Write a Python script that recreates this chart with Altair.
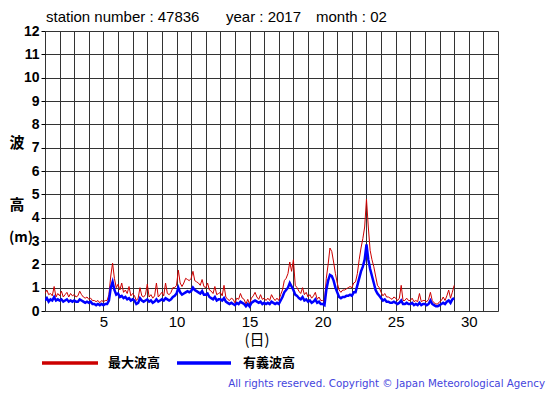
import altair as alt
import pandas as pd

# 3-hourly values from Feb 1 00:00 to Mar 1 00:00 (x = day of month)
sig_wave = [
    0.45,0.55,0.4,0.5,0.45,0.6,0.45,0.5,
    0.45,0.5,0.4,0.45,0.5,0.4,0.45,0.4,
    0.45,0.4,0.4,0.5,0.45,0.4,0.35,0.4,
    0.35,0.4,0.3,0.3,0.25,0.3,0.25,0.3,
    0.25,0.3,0.3,0.45,1.0,1.25,0.9,0.7,
    0.75,0.6,0.65,0.55,0.6,0.5,0.55,0.45,
    0.5,0.45,0.3,0.35,0.55,0.45,0.4,0.45,
    0.5,0.4,0.45,0.35,0.4,0.5,0.4,0.45,
    0.5,0.45,0.55,0.5,0.45,0.5,0.6,0.65,
    0.75,1.0,0.8,0.7,0.75,0.8,0.85,0.8,
    0.85,1.0,0.9,0.85,0.8,0.75,0.85,0.7,
    0.7,0.75,0.6,0.55,0.5,0.6,0.45,0.5,
    0.5,0.45,0.55,0.4,0.35,0.3,0.35,0.3,
    0.25,0.35,0.3,0.4,0.35,0.3,0.2,0.3,
    0.2,0.35,0.4,0.45,0.4,0.35,0.4,0.3,
    0.35,0.3,0.35,0.3,0.4,0.35,0.3,0.35,
    0.3,0.45,0.6,0.8,0.9,1.0,1.2,1.05,
    0.9,0.7,0.65,0.55,0.5,0.6,0.45,0.5,
    0.4,0.45,0.35,0.4,0.5,0.35,0.4,0.3,
    0.3,0.25,0.9,1.3,1.55,1.5,1.3,1.0,
    0.8,0.6,0.55,0.6,0.6,0.65,0.65,0.7,
    0.65,0.8,0.8,1.1,1.4,1.7,1.9,2.2,
    2.85,2.2,1.8,1.5,1.2,0.9,0.75,0.65,
    0.55,0.45,0.5,0.4,0.4,0.35,0.35,0.4,
    0.35,0.3,0.35,0.45,0.3,0.3,0.35,0.3,
    0.3,0.35,0.25,0.3,0.25,0.35,0.25,0.3,
    0.3,0.25,0.3,0.45,0.3,0.25,0.2,0.2,
    0.25,0.3,0.35,0.3,0.4,0.45,0.35,0.5,
    0.55,
]
max_wave = [
    0.75,0.9,0.7,0.75,0.65,1.05,0.6,0.75,
    0.65,0.85,0.6,0.7,0.8,0.6,0.75,0.65,
    0.7,0.6,0.65,0.85,0.7,0.6,0.55,0.6,
    0.5,0.55,0.45,0.45,0.4,0.45,0.35,0.45,
    0.4,0.45,0.45,0.7,1.5,2.05,1.4,1.0,
    1.15,0.9,1.2,0.8,0.9,0.75,1.05,0.65,
    0.75,0.65,0.45,0.55,1.0,0.65,0.6,0.7,
    1.15,0.6,0.7,0.55,0.65,1.2,0.6,0.7,
    0.8,0.65,1.2,0.75,0.7,0.8,1.0,1.0,
    1.1,1.75,1.2,1.05,1.2,1.4,1.35,1.3,
    1.4,1.7,1.3,1.25,1.2,1.1,1.35,1.05,
    1.0,1.2,0.9,0.85,0.75,1.05,0.7,0.75,
    0.8,0.65,1.1,0.6,0.5,0.45,0.55,0.5,
    0.35,0.55,0.5,0.75,0.55,0.5,0.3,0.5,
    0.3,0.55,0.65,0.8,0.6,0.5,0.7,0.5,
    0.55,0.45,0.55,0.45,0.7,0.55,0.45,0.55,
    0.45,0.7,0.9,1.3,1.4,1.6,2.1,1.7,
    2.2,1.1,1.0,0.85,0.75,1.0,0.7,0.8,
    0.6,0.7,0.55,0.65,0.8,0.5,0.6,0.45,
    0.45,0.4,1.4,2.0,2.7,2.55,2.1,1.6,
    1.2,0.9,0.8,0.9,0.9,0.95,1.0,1.05,
    1.0,1.2,1.25,1.6,2.2,2.7,3.1,3.6,
    4.8,3.6,2.6,2.2,1.9,1.5,1.1,1.0,
    0.8,0.65,0.75,0.6,0.6,0.55,0.5,0.6,
    0.55,0.45,0.55,1.1,0.45,0.45,0.55,0.45,
    0.45,0.55,0.4,0.45,0.4,0.75,0.4,0.45,
    0.45,0.4,0.5,0.8,0.45,0.35,0.3,0.3,
    0.4,0.45,0.6,0.45,0.65,0.9,0.55,0.8,
    1.1,
]
series_names = ["最大波高", "有義波高"]
series_colors = ["#cc0000", "#0000ff"]
x_ticks = list(range(1, 33))
y_ticks = list(range(0, 13))

days = [1 + i / 8 for i in range(len(sig_wave))]
df = pd.DataFrame({
    "day": days * 2,
    "h": max_wave + sig_wave,
    "s": [series_names[0]] * len(max_wave) + [series_names[1]] * len(sig_wave),
})

FONT = "Liberation Sans"
JP = "Noto Sans CJK JP"

xs = alt.Scale(domain=[1, 32], nice=False, zero=False)
ys = alt.Scale(domain=[0, 12], nice=False)

base = alt.Chart(df).encode(
    x=alt.X("day:Q", scale=xs,
            axis=alt.Axis(values=x_ticks, title=None, grid=True, gridColor="#333333",
                          gridWidth=1, gridOpacity=1, tickSize=0, domain=False,
                          labelExpr="datum.value % 5 == 0 ? datum.label : ''",
                          labelFontSize=15, labelFont=FONT, labelColor="#000",
                          labelPadding=3, labelFlush=False)),
    y=alt.Y("h:Q", scale=ys,
            axis=alt.Axis(values=y_ticks, title=None, grid=True, gridColor="#333333",
                          gridWidth=1, gridOpacity=1, tickSize=4, tickColor="#000",
                          domain=False, labelFontSize=14, labelFontWeight="bold",
                          labelFont=FONT, labelColor="#000", labelPadding=2)),
    color=alt.Color("s:N", scale=alt.Scale(domain=series_names, range=series_colors),
                    legend=None),
)

red = base.transform_filter(alt.datum.s == series_names[0]).mark_line(strokeWidth=1, clip=True)
blue = base.transform_filter(alt.datum.s == series_names[1]).mark_line(strokeWidth=2.5, clip=True)

def txt(t, x, y, size=13, weight="normal", font=FONT, align="left", color="#000", baseline="middle"):
    return alt.Chart(pd.DataFrame({"t": [t]})).mark_text(
        fontSize=size, fontWeight=weight, font=font, align=align, color=color,
        baseline=baseline).encode(text="t:N", x=alt.value(x), y=alt.value(y))

texts = [
    txt("station number : 47836", 1, -14, size=15),
    txt("year : 2017", 181, -14, size=15),
    txt("month : 02", 271, -14, size=15),
    txt("波", -28, 112, size=15, weight="bold", font=JP, align="center"),
    txt("高", -28, 174, size=15, weight="bold", font=JP, align="center"),
    txt("(m)", -36, 207, size=14, weight="bold", font=JP, align="left"),
    txt("(日)", 212, 309, size=15, font=JP, align="center"),
    txt(series_names[0], 63, 332, size=13, weight="bold", font=JP),
    txt(series_names[1], 198, 332, size=13, weight="bold", font=JP),
    txt("All rights reserved. Copyright © Japan Meteorological Agency", 500, 353,
        size=10.3, font="DejaVu Sans", color="#4444dd", align="right"),
]

leg_red = alt.Chart(pd.DataFrame({"a": [0]})).mark_rule(color=series_colors[0], strokeWidth=3.5).encode(
    x=alt.value(-3), x2=alt.value(53), y=alt.value(332))
leg_blue = alt.Chart(pd.DataFrame({"a": [0]})).mark_rule(color=series_colors[1], strokeWidth=3.5).encode(
    x=alt.value(132), x2=alt.value(186), y=alt.value(332))

chart = alt.layer(red, blue, leg_red, leg_blue, *texts).properties(
    width=453, height=280,
    autosize=alt.AutoSizeParams(type="none"),
    padding={"left": 37, "top": 23, "right": 49, "bottom": 82},
).configure_view(stroke="#000", strokeWidth=2).configure(background="white")

chart.save("out.html", embed_options={"renderer": "svg", "actions": False})
